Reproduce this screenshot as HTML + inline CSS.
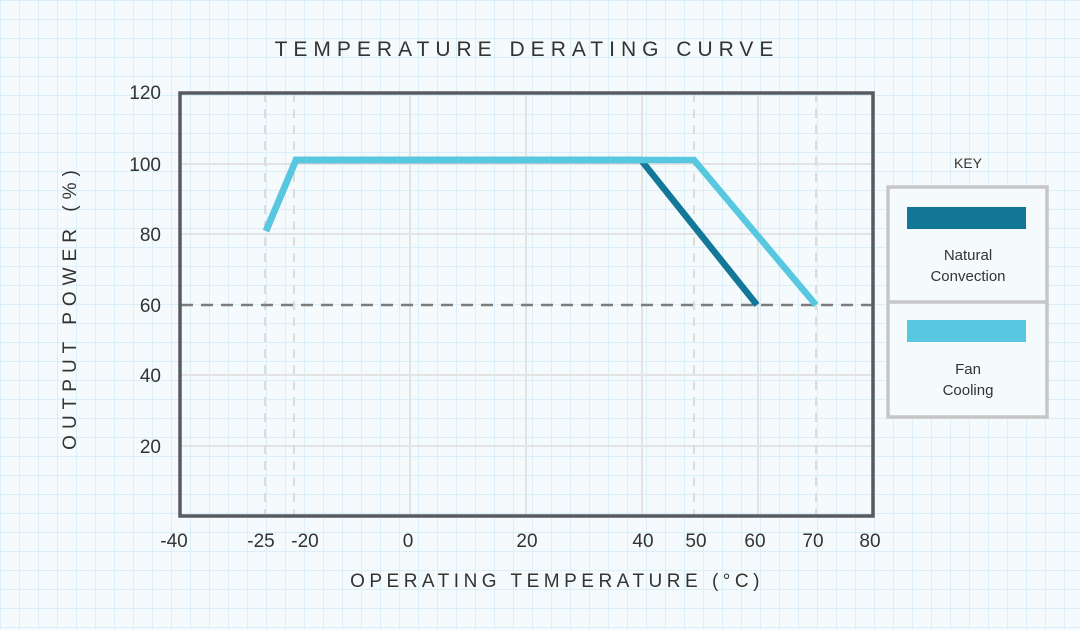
<!DOCTYPE html>
<html><head><meta charset="utf-8"><style>
html,body{margin:0;padding:0}
body{width:1080px;height:630px;overflow:hidden;background-color:#f5fbfd;
background-image:linear-gradient(to right,#dceff8 1px,transparent 1px),linear-gradient(to bottom,#dceff8 1px,transparent 1px);
background-size:19px 19px;background-position:0 0;}
svg{position:absolute;left:0;top:0}
text{font-family:"Liberation Sans",sans-serif;fill:#333}
</style></head><body>
<svg width="1080" height="630" viewBox="0 0 1080 630">
<text x="527" y="56" text-anchor="middle" font-size="21" letter-spacing="6">TEMPERATURE DERATING CURVE</text>
<g stroke="#e3e3e3" stroke-width="2">
<line x1="410" y1="93" x2="410" y2="515"/><line x1="526" y1="93" x2="526" y2="515"/>
<line x1="642" y1="93" x2="642" y2="515"/><line x1="758" y1="93" x2="758" y2="515"/>
<line x1="181" y1="164" x2="872" y2="164"/><line x1="181" y1="234" x2="872" y2="234"/>
<line x1="181" y1="375" x2="872" y2="375"/><line x1="181" y1="446" x2="872" y2="446"/>
</g>
<g stroke="#dcdcdc" stroke-width="2" stroke-dasharray="9,7">
<line x1="265" y1="93" x2="265" y2="515"/><line x1="294" y1="93" x2="294" y2="515"/>
<line x1="694" y1="93" x2="694" y2="515"/><line x1="816" y1="93" x2="816" y2="515"/>
</g>
<line x1="181" y1="305" x2="876" y2="305" stroke="#7c7c7c" stroke-width="2.5" stroke-dasharray="12,8"/>
<polyline points="266,231 296,160 641,160 757,305" fill="none" stroke="#137898" stroke-width="6.5"/>
<polyline points="266,231 296,160 694,160 816,305" fill="none" stroke="#57c8e0" stroke-width="6.5"/>
<rect x="180" y="93" width="693" height="423" fill="none" stroke="#575a5e" stroke-width="3.5"/>
<g font-size="19" text-anchor="end">
<text x="161" y="99">120</text><text x="161" y="171">100</text><text x="161" y="241">80</text>
<text x="161" y="312">60</text><text x="161" y="382">40</text><text x="161" y="453">20</text>
</g>
<g font-size="19" text-anchor="middle">
<text x="174" y="547">-40</text><text x="261" y="547">-25</text><text x="305" y="547">-20</text>
<text x="408" y="547">0</text><text x="527" y="547">20</text><text x="643" y="547">40</text>
<text x="696" y="547">50</text><text x="755" y="547">60</text><text x="813" y="547">70</text><text x="870" y="547">80</text>
</g>
<text x="557" y="587" text-anchor="middle" font-size="19" letter-spacing="4.5">OPERATING TEMPERATURE (°C)</text>
<text transform="translate(76,307) rotate(-90)" text-anchor="middle" font-size="19" letter-spacing="6">OUTPUT POWER (%)</text>
<text x="968" y="168" text-anchor="middle" font-size="14">KEY</text>
<rect x="888" y="187" width="159" height="230" fill="#f5fbfd" stroke="#c6c6c6" stroke-width="3.5"/>
<line x1="888" y1="302" x2="1047" y2="302" stroke="#c6c6c6" stroke-width="3.5"/>
<rect x="907" y="207" width="119" height="22" fill="#137898"/>
<rect x="907" y="320" width="119" height="22" fill="#57c8e0"/>
<g font-size="15" text-anchor="middle">
<text x="968" y="260">Natural</text><text x="968" y="281">Convection</text>
<text x="968" y="374">Fan</text><text x="968" y="395">Cooling</text>
</g>
</svg>
</body></html>
